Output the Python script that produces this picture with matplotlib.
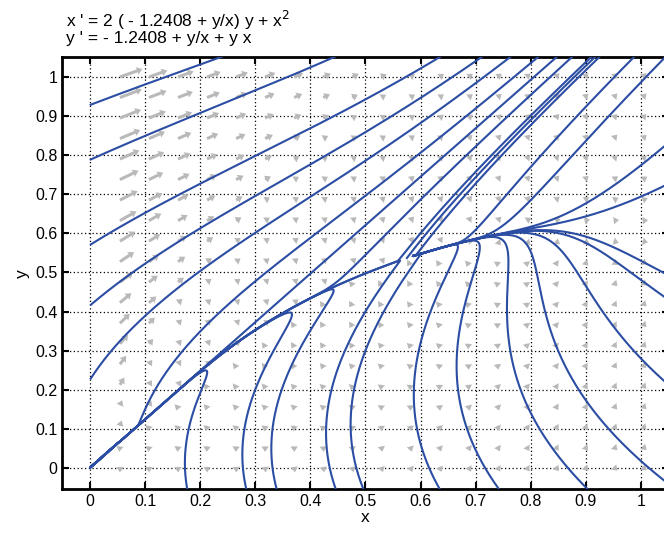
import numpy as np
import matplotlib
matplotlib.use("Agg")
import matplotlib.pyplot as plt

# system shown in the title
A = -1.2408

# window of the phase plane
XLIM = (-0.05, 1.05)
YLIM = (-0.054, 1.05)

# seed points of the solution curves
left_seed_x = 0.003
left_seed_y = [0.93, 0.79, 0.573, 0.419, 0.232]
top_seed_x = [0.808, 0.842, 0.87, 0.905, 0.912, 0.92, 0.983, 1.04]
top_seed_y = 1.045
bottom_seed_x = [0.176, 0.283, 0.338, 0.445, 0.495, 0.633, 0.74, 0.9]
bottom_seed_y = -0.05
right_seed_y = [-0.03, 0.225, 0.44, 0.5, 0.72, 0.82]
right_seed_x = 1.04

# direction field grid
arrow_x = 0.0544 + 0.0527 * np.arange(19)
arrow_y = 0.0025 + 0.0525 * np.arange(20)

LINE_COLOR = "#2b4da3"
ARROW_COLOR = "#b9b9b9"


def field(x, y):
    return 2 * (A + y / x) * y + x ** 2, A + y / x + y * x


def direction(x, y, sign):
    if x <= 5e-4:
        return None
    fx, fy = field(x, y)
    n = np.hypot(fx, fy)
    if n < 1e-4:
        return None
    return sign * fx / n, sign * fy / n


def trace(x0, y0, sign, h=0.002, nmax=4000):
    xs, ys = [x0], [y0]
    x, y = x0, y0
    last = None
    for _ in range(nmax):
        k1 = direction(x, y, sign)
        if k1 is None:
            break
        k2 = direction(x + h / 2 * k1[0], y + h / 2 * k1[1], sign)
        if k2 is None:
            break
        k3 = direction(x + h / 2 * k2[0], y + h / 2 * k2[1], sign)
        if k3 is None:
            break
        k4 = direction(x + h * k3[0], y + h * k3[1], sign)
        if k4 is None:
            break
        dx = (k1[0] + 2 * k2[0] + 2 * k3[0] + k4[0]) / 6
        dy = (k1[1] + 2 * k2[1] + 2 * k3[1] + k4[1]) / 6
        if last is not None and dx * last[0] + dy * last[1] < -0.5:
            break  # stuck at an equilibrium
        last = (dx, dy)
        x, y = x + h * dx, y + h * dy
        xs.append(x)
        ys.append(y)
        if x < XLIM[0] - 0.01 or x > XLIM[1] + 0.01 or y < YLIM[0] - 0.01 or y > YLIM[1] + 0.01:
            break
    return np.array(xs), np.array(ys)


def solution(x0, y0):
    xb, yb = trace(x0, y0, -1)
    xf, yf = trace(x0, y0, 1)
    return np.concatenate([xb[::-1], xf[1:]]), np.concatenate([yb[::-1], yf[1:]])


plt.rcParams['font.family'] = ['Liberation Sans', 'DejaVu Sans']

fig = plt.figure(figsize=(6.64, 5.33), dpi=100)
ax = fig.add_axes([0.094, 0.0826, 0.9128, 0.8096])
ax.set_xlim(*XLIM)
ax.set_ylim(*YLIM)

# direction field, arrow length grows with log of the speed
sx = 0.9128 * 664 / (XLIM[1] - XLIM[0])
sy = 0.8096 * 533 / (YLIM[1] - YLIM[0])
X, Y = np.meshgrid(arrow_x, arrow_y)
FX, FY = field(X, Y)
M = np.hypot(FX, FY)
P = np.hypot(FX * sx, FY * sy)
Lpx = np.maximum(6 * np.log(M) + 2, 5.5)
ax.quiver(X, Y, Lpx * FX / P, Lpx * FY / P, angles='xy', scale_units='xy', scale=1,
          pivot='tail', color=ARROW_COLOR, width=0.005, headwidth=2.6,
          headlength=1.9, headaxislength=1.8, minlength=1.2, zorder=2)

# solution curves
seeds = [(left_seed_x, y0) for y0 in left_seed_y]
seeds += [(x0, top_seed_y) for x0 in top_seed_x]
seeds += [(x0, bottom_seed_y) for x0 in bottom_seed_x]
seeds += [(right_seed_x, y0) for y0 in right_seed_y]
for x0, y0 in seeds:
    cx, cy = solution(x0, y0)
    ax.plot(cx, cy, color=LINE_COLOR, lw=1.5, zorder=3)

ax.set_xticks(np.arange(0, 1.01, 0.1))
ax.set_yticks(np.arange(0, 1.01, 0.1))
ax.set_xticklabels(["0", "0.1", "0.2", "0.3", "0.4", "0.5", "0.6", "0.7", "0.8", "0.9", "1"])
ax.set_yticklabels(["0", "0.1", "0.2", "0.3", "0.4", "0.5", "0.6", "0.7", "0.8", "0.9", "1"])
ax.grid(True, color="black", linestyle=(0, (1, 2)), lw=0.9)
ax.set_axisbelow(True)
ax.tick_params(direction='in', length=5, width=1.5, top=True, right=True, labelsize=11.5)
for s in ax.spines.values():
    s.set_linewidth(2)
ax.set_xlabel("x", fontsize=12.5, labelpad=1)
ax.set_ylabel("y", fontsize=12.5, labelpad=4)

fig.text(0.1, 0.949, "x ' = 2 ( - 1.2408 + y/x) y + x$^2$", fontsize=12.5, va='baseline')
fig.text(0.1, 0.919, "y ' = - 1.2408 + y/x + y x", fontsize=12.5, va='baseline')

fig.savefig("out.png", dpi=100)
